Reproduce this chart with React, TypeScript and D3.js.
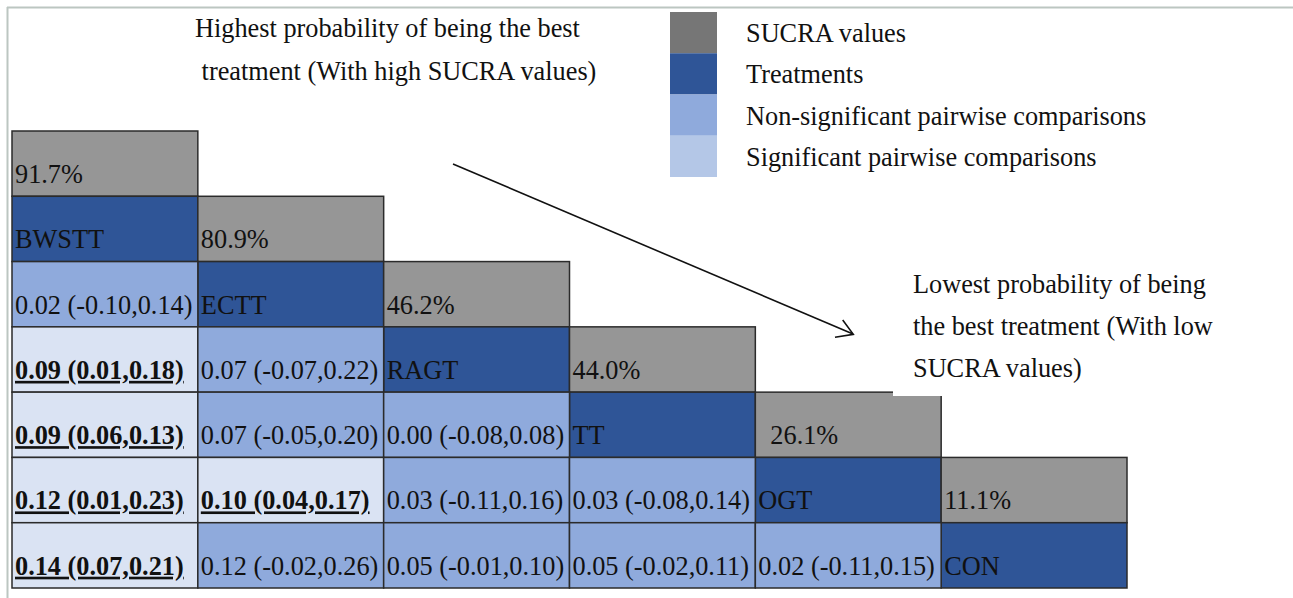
import React from "react";
import * as d3 from "d3";

const treatments = ["BWSTT", "ECTT", "RAGT", "TT", "OGT", "CON"];
const sucra = [91.7, 80.9, 46.2, 44.0, 26.1, 11.1];

// Lower-triangle pairwise comparisons: row = treatment index (1..5), col = compared treatment index
const estECTT = [0.02];
const lowECTT = [-0.10];
const uppECTT = [0.14];
const estRAGT = [0.09, 0.07];
const lowRAGT = [0.01, -0.07];
const uppRAGT = [0.18, 0.22];
const estTT = [0.09, 0.07, 0.00];
const lowTT = [0.06, -0.05, -0.08];
const uppTT = [0.13, 0.20, 0.08];
const estOGT = [0.12, 0.10, 0.03, 0.03];
const lowOGT = [0.01, 0.04, -0.11, -0.08];
const uppOGT = [0.23, 0.17, 0.16, 0.14];
const estCON = [0.14, 0.12, 0.05, 0.05, 0.02];
const lowCON = [0.07, -0.02, -0.01, -0.02, -0.11];
const uppCON = [0.21, 0.26, 0.10, 0.11, 0.15];

const legendLabels = [
  "SUCRA values",
  "Treatments",
  "Non-significant pairwise comparisons",
  "Significant pairwise comparisons",
];
const highText = ["Highest probability of being the best", " treatment (With high SUCRA values)"];
const lowText = ["Lowest probability of being", "the best treatment (With low", "SUCRA values)"];

const C_GRAY = "#969696";
const C_LEG_GRAY = "#767676";
const C_DARK = "#2f5597";
const C_MID = "#8faadc";
const C_SIG = "#dae3f3";
const C_LEG_SIG = "#b4c7e7";
const FONT = "'Liberation Serif', 'Times New Roman', 'DejaVu Serif', serif";
const FS = 26.3;

const compRows = [
  { est: estECTT, low: lowECTT, upp: uppECTT },
  { est: estRAGT, low: lowRAGT, upp: uppRAGT },
  { est: estTT, low: lowTT, upp: uppTT },
  { est: estOGT, low: lowOGT, upp: uppOGT },
  { est: estCON, low: lowCON, upp: uppCON },
];

const f = (v: number) => d3.format(".2f")(v).replace("−", "-");

export default function App() {
  const W = 1293, H = 598;
  const x = d3.scaleLinear().domain([0, 6]).range([12, 1127]);
  const y = d3.scaleLinear().domain([0, 7]).range([131, 588]);
  const cw = x(1) - x(0);
  const ch = y(1) - y(0);

  const cells: any[] = [];
  treatments.forEach((t, i) => {
    cells.push({ col: i, row: i, fill: C_GRAY, text: d3.format(".1f")(sucra[i]) + "%", bold: false, dx: i === 4 ? 15 : 3 });
    cells.push({ col: i, row: i + 1, fill: C_DARK, text: t, bold: false, dx: 3 });
  });
  compRows.forEach((r, ri) => {
    r.est.forEach((e, c) => {
      const sig = r.low[c] > 0 || r.upp[c] < 0;
      cells.push({
        col: c,
        row: ri + 2,
        fill: sig ? C_SIG : C_MID,
        text: `${f(e)} (${f(r.low[c])},${f(r.upp[c])})`,
        bold: sig,
        dx: 3,
      });
    });
  });

  const legY = d3.scaleLinear().domain([0, 4]).range([12, 177]);
  const legColors = [C_LEG_GRAY, C_DARK, C_MID, C_LEG_SIG];
  const ts = { fontFamily: FONT, fontSize: FS, fill: "#111" } as any;

  return (
    <svg width={W} height={H} style={{ position: "absolute", left: 0, top: 0, background: "#fff" }}>
      <rect x={0} y={0} width={W} height={H} fill="#fff" />
      <line x1={7} x2={W} y1={7.5} y2={7.5} stroke="#bcc6c1" strokeWidth={2} />
      <line x1={7.5} x2={7.5} y1={7} y2={H} stroke="#bcc6c1" strokeWidth={2} />

      {cells.map((c, k) => (
        <rect key={k} x={x(c.col)} y={y(c.row)} width={cw} height={ch} fill={c.fill} stroke="#2b2b2b" strokeWidth={1.5} />
      ))}
      {cells.map((c, k) => (
        <text
          key={"t" + k}
          x={x(c.col) + c.dx}
          y={y(c.row) + 52}
          style={{ ...ts, fontWeight: c.bold ? "bold" : "normal", textDecoration: c.bold ? "underline" : "none" }}
        >
          {c.text}
        </text>
      ))}
      <rect x={893} y={388} width={50} height={8} fill="#fff" />

      {legendLabels.map((l, i) => (
        <g key={"l" + i}>
          <rect x={670} y={legY(i)} width={47} height={legY(i + 1) - legY(i)} fill={legColors[i]} />
          <text x={746} y={legY(i) + 30} style={ts}>{l}</text>
        </g>
      ))}

      {highText.map((t, i) => (
        <text key={"h" + i} x={195} y={37 + i * 43} style={{ ...ts, whiteSpace: "pre" }}>{t}</text>
      ))}
      {lowText.map((t, i) => (
        <text key={"lo" + i} x={913} y={293 + i * 42} style={ts}>{t}</text>
      ))}

      <line x1={453} y1={164} x2={853} y2={334} stroke="#111" strokeWidth={1.6} />
      <polyline points="842.7,320 853.3,334.3 835,337.3" fill="none" stroke="#111" strokeWidth={1.6} />
    </svg>
  );
}
